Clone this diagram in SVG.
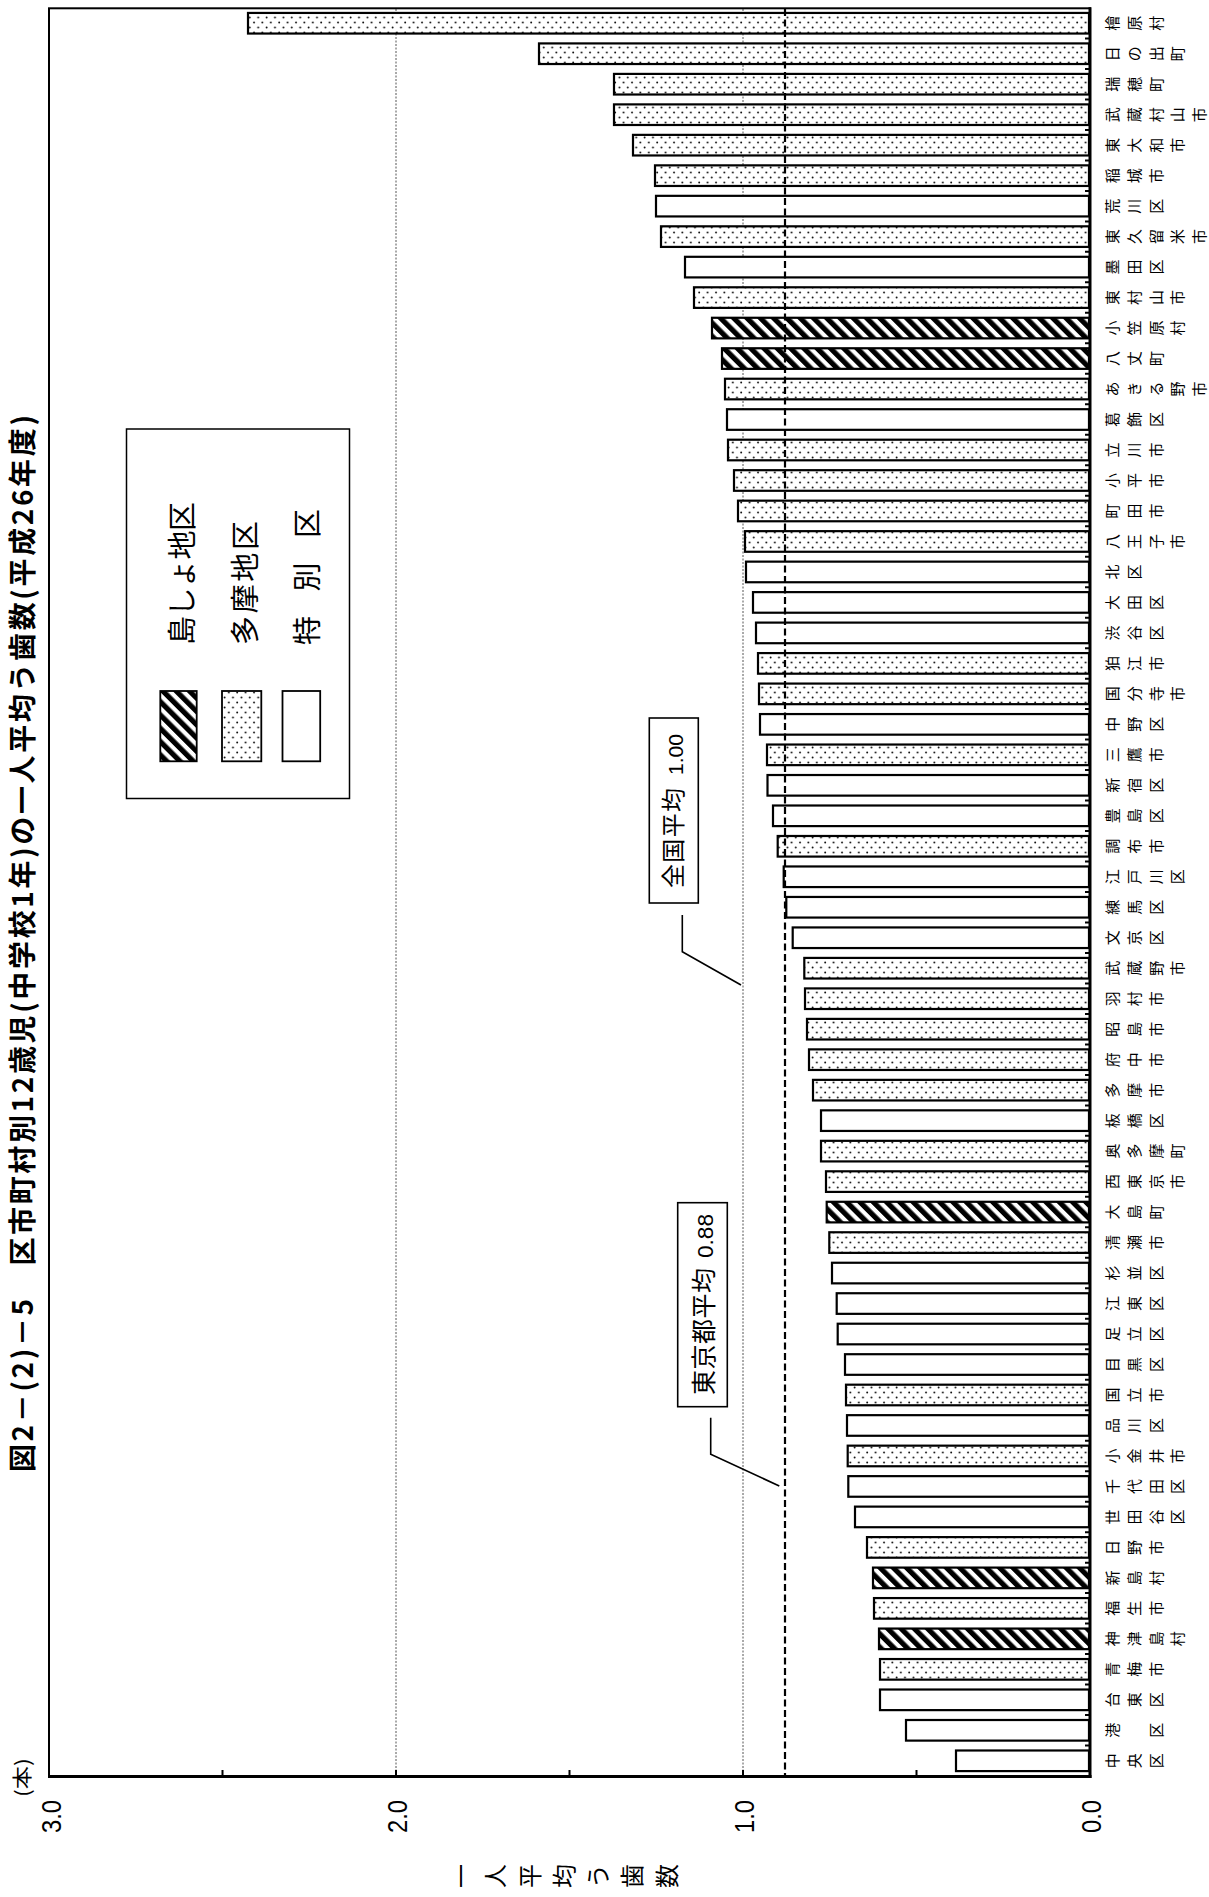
<svg xmlns="http://www.w3.org/2000/svg" width="1209" height="1897" viewBox="0 0 1209 1897">
<defs>
<pattern id="dots" patternUnits="userSpaceOnUse" width="8.4" height="10">
<rect width="8.4" height="10" fill="#fff"/>
<circle cx="2" cy="2.5" r="0.95" fill="#111"/>
<circle cx="6.2" cy="7.5" r="0.95" fill="#111"/>
</pattern>
<pattern id="hatch" patternUnits="userSpaceOnUse" width="9.4" height="9.4" patternTransform="rotate(-45)">
<rect width="9.4" height="9.4" fill="#fff"/>
<rect width="5.2" height="9.4" fill="#000"/>
</pattern>
<style>
.bar{stroke:#000;stroke-width:2.2}
.w{fill:#fff}
.d{fill:url(#dots)}
.h{fill:url(#hatch)}
.lbl{font-family:"Noto Sans CJK JP","Noto Sans CJK SC",sans-serif;font-size:15px;fill:#000}
.jp{font-family:"Noto Sans CJK JP","Noto Sans CJK SC",sans-serif;fill:#000}
.num{font-family:"Liberation Sans",Arial,sans-serif;fill:#000}
.grid{stroke:#555;stroke-width:1;stroke-dasharray:2 1.5;fill:none}
.box{fill:#fff;stroke:#000;stroke-width:1.6}
.lead{fill:none;stroke:#000;stroke-width:1.6}
</style>
</defs>
<rect width="1209" height="1897" fill="#fff"/>

<g id="title">
<text class="jp" x="32.5" y="1472" font-size="28" font-weight="700" transform="rotate(-90 32.5 1472)" textLength="1057" lengthAdjust="spacing">図2－(2)－5　区市町村別12歳児(中学校1年)の一人平均う歯数(平成26年度)</text>
</g>

<g id="gridlines">
<line class="grid" x1="396" y1="9" x2="396" y2="1775"/>
<line class="grid" x1="743" y1="9" x2="743" y2="1775"/>
</g>

<g id="bars">
<g id="bar-01"><rect class="bar d" x="248" y="12.94" width="841" height="20.6"/><text class="lbl" x="1118 1140 1162 1183 1205" y="30.74" rotate="-90">檜原村</text></g>
<g id="bar-02"><rect class="bar d" x="539" y="43.42" width="550" height="20.6"/><text class="lbl" x="1118 1140 1162 1183 1205" y="61.22" rotate="-90">日の出町</text></g>
<g id="bar-03"><rect class="bar d" x="614" y="73.91" width="475" height="20.6"/><text class="lbl" x="1118 1140 1162 1183 1205" y="91.71" rotate="-90">瑞穂町</text></g>
<g id="bar-04"><rect class="bar d" x="614" y="104.39" width="475" height="20.6"/><text class="lbl" x="1118 1140 1162 1183 1205" y="122.19" rotate="-90">武蔵村山市</text></g>
<g id="bar-05"><rect class="bar d" x="633" y="134.87" width="456" height="20.6"/><text class="lbl" x="1118 1140 1162 1183 1205" y="152.67" rotate="-90">東大和市</text></g>
<g id="bar-06"><rect class="bar d" x="655" y="165.36" width="434" height="20.6"/><text class="lbl" x="1118 1140 1162 1183 1205" y="183.16" rotate="-90">稲城市</text></g>
<g id="bar-07"><rect class="bar w" x="656" y="195.84" width="433" height="20.6"/><text class="lbl" x="1118 1140 1162 1183 1205" y="213.64" rotate="-90">荒川区</text></g>
<g id="bar-08"><rect class="bar d" x="661" y="226.32" width="428" height="20.6"/><text class="lbl" x="1118 1140 1162 1183 1205" y="244.12" rotate="-90">東久留米市</text></g>
<g id="bar-09"><rect class="bar w" x="685" y="256.81" width="404" height="20.6"/><text class="lbl" x="1118 1140 1162 1183 1205" y="274.61" rotate="-90">墨田区</text></g>
<g id="bar-10"><rect class="bar d" x="694" y="287.29" width="395" height="20.6"/><text class="lbl" x="1118 1140 1162 1183 1205" y="305.09" rotate="-90">東村山市</text></g>
<g id="bar-11"><rect class="bar h" x="712" y="317.77" width="377" height="20.6"/><text class="lbl" x="1118 1140 1162 1183 1205" y="335.57" rotate="-90">小笠原村</text></g>
<g id="bar-12"><rect class="bar h" x="722" y="348.26" width="367" height="20.6"/><text class="lbl" x="1118 1140 1162 1183 1205" y="366.06" rotate="-90">八丈町</text></g>
<g id="bar-13"><rect class="bar d" x="725" y="378.74" width="364" height="20.6"/><text class="lbl" x="1118 1140 1162 1183 1205" y="396.54" rotate="-90">あきる野市</text></g>
<g id="bar-14"><rect class="bar w" x="727" y="409.22" width="362" height="20.6"/><text class="lbl" x="1118 1140 1162 1183 1205" y="427.02" rotate="-90">葛飾区</text></g>
<g id="bar-15"><rect class="bar d" x="728" y="439.71" width="361" height="20.6"/><text class="lbl" x="1118 1140 1162 1183 1205" y="457.51" rotate="-90">立川市</text></g>
<g id="bar-16"><rect class="bar d" x="734" y="470.19" width="355" height="20.6"/><text class="lbl" x="1118 1140 1162 1183 1205" y="487.99" rotate="-90">小平市</text></g>
<g id="bar-17"><rect class="bar d" x="738" y="500.67" width="351" height="20.6"/><text class="lbl" x="1118 1140 1162 1183 1205" y="518.47" rotate="-90">町田市</text></g>
<g id="bar-18"><rect class="bar d" x="745" y="531.16" width="344" height="20.6"/><text class="lbl" x="1118 1140 1162 1183 1205" y="548.96" rotate="-90">八王子市</text></g>
<g id="bar-19"><rect class="bar w" x="746" y="561.64" width="343" height="20.6"/><text class="lbl" x="1118 1140 1162 1183 1205" y="579.44" rotate="-90">北区</text></g>
<g id="bar-20"><rect class="bar w" x="753" y="592.12" width="336" height="20.6"/><text class="lbl" x="1118 1140 1162 1183 1205" y="609.92" rotate="-90">大田区</text></g>
<g id="bar-21"><rect class="bar w" x="756" y="622.61" width="333" height="20.6"/><text class="lbl" x="1118 1140 1162 1183 1205" y="640.41" rotate="-90">渋谷区</text></g>
<g id="bar-22"><rect class="bar d" x="758" y="653.09" width="331" height="20.6"/><text class="lbl" x="1118 1140 1162 1183 1205" y="670.89" rotate="-90">狛江市</text></g>
<g id="bar-23"><rect class="bar d" x="759" y="683.57" width="330" height="20.6"/><text class="lbl" x="1118 1140 1162 1183 1205" y="701.37" rotate="-90">国分寺市</text></g>
<g id="bar-24"><rect class="bar w" x="760" y="714.06" width="329" height="20.6"/><text class="lbl" x="1118 1140 1162 1183 1205" y="731.86" rotate="-90">中野区</text></g>
<g id="bar-25"><rect class="bar d" x="767" y="744.54" width="322" height="20.6"/><text class="lbl" x="1118 1140 1162 1183 1205" y="762.34" rotate="-90">三鷹市</text></g>
<g id="bar-26"><rect class="bar w" x="767.5" y="775.02" width="321.5" height="20.6"/><text class="lbl" x="1118 1140 1162 1183 1205" y="792.82" rotate="-90">新宿区</text></g>
<g id="bar-27"><rect class="bar w" x="773" y="805.51" width="316" height="20.6"/><text class="lbl" x="1118 1140 1162 1183 1205" y="823.31" rotate="-90">豊島区</text></g>
<g id="bar-28"><rect class="bar d" x="777.7" y="835.99" width="311.3" height="20.6"/><text class="lbl" x="1118 1140 1162 1183 1205" y="853.79" rotate="-90">調布市</text></g>
<g id="bar-29"><rect class="bar w" x="783.7" y="866.47" width="305.3" height="20.6"/><text class="lbl" x="1118 1140 1162 1183 1205" y="884.27" rotate="-90">江戸川区</text></g>
<g id="bar-30"><rect class="bar w" x="786.3" y="896.96" width="302.7" height="20.6"/><text class="lbl" x="1118 1140 1162 1183 1205" y="914.76" rotate="-90">練馬区</text></g>
<g id="bar-31"><rect class="bar w" x="792.7" y="927.44" width="296.3" height="20.6"/><text class="lbl" x="1118 1140 1162 1183 1205" y="945.24" rotate="-90">文京区</text></g>
<g id="bar-32"><rect class="bar d" x="804.3" y="957.92" width="284.7" height="20.6"/><text class="lbl" x="1118 1140 1162 1183 1205" y="975.72" rotate="-90">武蔵野市</text></g>
<g id="bar-33"><rect class="bar d" x="805" y="988.41" width="284" height="20.6"/><text class="lbl" x="1118 1140 1162 1183 1205" y="1006.21" rotate="-90">羽村市</text></g>
<g id="bar-34"><rect class="bar d" x="807" y="1018.89" width="282" height="20.6"/><text class="lbl" x="1118 1140 1162 1183 1205" y="1036.69" rotate="-90">昭島市</text></g>
<g id="bar-35"><rect class="bar d" x="809" y="1049.37" width="280" height="20.6"/><text class="lbl" x="1118 1140 1162 1183 1205" y="1067.17" rotate="-90">府中市</text></g>
<g id="bar-36"><rect class="bar d" x="813" y="1079.86" width="276" height="20.6"/><text class="lbl" x="1118 1140 1162 1183 1205" y="1097.66" rotate="-90">多摩市</text></g>
<g id="bar-37"><rect class="bar w" x="821" y="1110.34" width="268" height="20.6"/><text class="lbl" x="1118 1140 1162 1183 1205" y="1128.14" rotate="-90">板橋区</text></g>
<g id="bar-38"><rect class="bar d" x="821" y="1140.82" width="268" height="20.6"/><text class="lbl" x="1118 1140 1162 1183 1205" y="1158.62" rotate="-90">奥多摩町</text></g>
<g id="bar-39"><rect class="bar d" x="826" y="1171.31" width="263" height="20.6"/><text class="lbl" x="1118 1140 1162 1183 1205" y="1189.11" rotate="-90">西東京市</text></g>
<g id="bar-40"><rect class="bar h" x="826.7" y="1201.79" width="262.3" height="20.6"/><text class="lbl" x="1118 1140 1162 1183 1205" y="1219.59" rotate="-90">大島町</text></g>
<g id="bar-41"><rect class="bar d" x="829.3" y="1232.27" width="259.7" height="20.6"/><text class="lbl" x="1118 1140 1162 1183 1205" y="1250.07" rotate="-90">清瀬市</text></g>
<g id="bar-42"><rect class="bar w" x="832" y="1262.76" width="257" height="20.6"/><text class="lbl" x="1118 1140 1162 1183 1205" y="1280.56" rotate="-90">杉並区</text></g>
<g id="bar-43"><rect class="bar w" x="836.7" y="1293.24" width="252.3" height="20.6"/><text class="lbl" x="1118 1140 1162 1183 1205" y="1311.04" rotate="-90">江東区</text></g>
<g id="bar-44"><rect class="bar w" x="837.7" y="1323.72" width="251.3" height="20.6"/><text class="lbl" x="1118 1140 1162 1183 1205" y="1341.52" rotate="-90">足立区</text></g>
<g id="bar-45"><rect class="bar w" x="845" y="1354.21" width="244" height="20.6"/><text class="lbl" x="1118 1140 1162 1183 1205" y="1372.01" rotate="-90">目黒区</text></g>
<g id="bar-46"><rect class="bar d" x="846" y="1384.69" width="243" height="20.6"/><text class="lbl" x="1118 1140 1162 1183 1205" y="1402.49" rotate="-90">国立市</text></g>
<g id="bar-47"><rect class="bar w" x="847" y="1415.17" width="242" height="20.6"/><text class="lbl" x="1118 1140 1162 1183 1205" y="1432.97" rotate="-90">品川区</text></g>
<g id="bar-48"><rect class="bar d" x="847.7" y="1445.66" width="241.3" height="20.6"/><text class="lbl" x="1118 1140 1162 1183 1205" y="1463.46" rotate="-90">小金井市</text></g>
<g id="bar-49"><rect class="bar w" x="848.3" y="1476.14" width="240.7" height="20.6"/><text class="lbl" x="1118 1140 1162 1183 1205" y="1493.94" rotate="-90">千代田区</text></g>
<g id="bar-50"><rect class="bar w" x="855" y="1506.62" width="234" height="20.6"/><text class="lbl" x="1118 1140 1162 1183 1205" y="1524.42" rotate="-90">世田谷区</text></g>
<g id="bar-51"><rect class="bar d" x="867" y="1537.11" width="222" height="20.6"/><text class="lbl" x="1118 1140 1162 1183 1205" y="1554.91" rotate="-90">日野市</text></g>
<g id="bar-52"><rect class="bar h" x="873" y="1567.59" width="216" height="20.6"/><text class="lbl" x="1118 1140 1162 1183 1205" y="1585.39" rotate="-90">新島村</text></g>
<g id="bar-53"><rect class="bar d" x="874" y="1598.07" width="215" height="20.6"/><text class="lbl" x="1118 1140 1162 1183 1205" y="1615.87" rotate="-90">福生市</text></g>
<g id="bar-54"><rect class="bar h" x="879" y="1628.56" width="210" height="20.6"/><text class="lbl" x="1118 1140 1162 1183 1205" y="1646.36" rotate="-90">神津島村</text></g>
<g id="bar-55"><rect class="bar d" x="880" y="1659.04" width="209" height="20.6"/><text class="lbl" x="1118 1140 1162 1183 1205" y="1676.84" rotate="-90">青梅市</text></g>
<g id="bar-56"><rect class="bar w" x="880" y="1689.52" width="209" height="20.6"/><text class="lbl" x="1118 1140 1162 1183 1205" y="1707.32" rotate="-90">台東区</text></g>
<g id="bar-57"><rect class="bar w" x="906" y="1720.01" width="183" height="20.6"/><text class="lbl" x="1118 1162" y="1737.81" rotate="-90">港区</text></g>
<g id="bar-58"><rect class="bar w" x="956" y="1750.49" width="133" height="20.6"/><text class="lbl" x="1118 1140 1162 1183 1205" y="1768.29" rotate="-90">中央区</text></g>
</g>

<g id="tokyo-average-line">
<line x1="785" y1="9" x2="785" y2="1775" stroke="#000" stroke-width="2.2" stroke-dasharray="7 3.5"/>
</g>

<g id="axes">
<rect x="49" y="8.3" width="1041" height="1768" fill="none" stroke="#000" stroke-width="2"/>
<line x1="1090" y1="7.3" x2="1090" y2="1778" stroke="#000" stroke-width="3"/>
<line x1="48" y1="1776.5" x2="1091.5" y2="1776.5" stroke="#000" stroke-width="3"/>
<path d="M916.5 1770V1776M743 1770V1776M569.5 1770V1776M396 1770V1776M222.5 1770V1776" stroke="#000" stroke-width="2" fill="none"/>
<path d="M1085 38.48h5M1085 68.97h5M1085 99.45h5M1085 129.93h5M1085 160.42h5M1085 190.9h5M1085 221.38h5M1085 251.86h5M1085 282.35h5M1085 312.83h5M1085 343.31h5M1085 373.8h5M1085 404.28h5M1085 434.76h5M1085 465.25h5M1085 495.73h5M1085 526.21h5M1085 556.69h5M1085 587.18h5M1085 617.66h5M1085 648.14h5M1085 678.63h5M1085 709.11h5M1085 739.59h5M1085 770.08h5M1085 800.56h5M1085 831.04h5M1085 861.52h5M1085 892.01h5M1085 922.49h5M1085 952.97h5M1085 983.46h5M1085 1013.94h5M1085 1044.42h5M1085 1074.91h5M1085 1105.39h5M1085 1135.87h5M1085 1166.35h5M1085 1196.84h5M1085 1227.32h5M1085 1257.8h5M1085 1288.29h5M1085 1318.77h5M1085 1349.25h5M1085 1379.74h5M1085 1410.22h5M1085 1440.7h5M1085 1471.18h5M1085 1501.67h5M1085 1532.15h5M1085 1562.63h5M1085 1593.12h5M1085 1623.6h5M1085 1654.08h5M1085 1684.57h5M1085 1715.05h5M1085 1745.53h5" stroke="#000" stroke-width="2" fill="none"/>
<text class="num" x="1101" y="1800" font-size="28" text-anchor="end" textLength="33" lengthAdjust="spacingAndGlyphs" transform="rotate(-90 1101 1800)">0.0</text>
<text class="num" x="754" y="1800" font-size="28" text-anchor="end" textLength="33" lengthAdjust="spacingAndGlyphs" transform="rotate(-90 754 1800)">1.0</text>
<text class="num" x="407" y="1800" font-size="28" text-anchor="end" textLength="33" lengthAdjust="spacingAndGlyphs" transform="rotate(-90 407 1800)">2.0</text>
<text class="num" x="61" y="1800" font-size="28" text-anchor="end" textLength="33" lengthAdjust="spacingAndGlyphs" transform="rotate(-90 61 1800)">3.0</text>
<text class="jp" x="30" y="1797" font-size="20" textLength="39" lengthAdjust="spacingAndGlyphs" transform="rotate(-90 30 1797)">(本)</text>
<text class="jp" x="470 504 539 573 607 641 676" y="1888" font-size="24" rotate="-90">一人平均う歯数</text>
</g>

<g id="legend">
<rect x="126.5" y="429" width="223" height="369.5" fill="#fff" stroke="#000" stroke-width="1.5"/>
<rect x="160.3" y="691" width="36.4" height="70.3" fill="url(#hatch)" stroke="#000" stroke-width="1.8"/>
<rect x="222" y="691" width="39.3" height="70.3" fill="url(#dots)" stroke="#000" stroke-width="1.8"/>
<rect x="282.5" y="691" width="37.7" height="70.3" fill="#fff" stroke="#000" stroke-width="1.8"/>
<text class="jp" x="193" y="645" font-size="29" textLength="143" lengthAdjust="spacing" transform="rotate(-90 193 645)">島しょ地区</text>
<text class="jp" x="256" y="645" font-size="29" textLength="124" lengthAdjust="spacing" transform="rotate(-90 256 645)">多摩地区</text>
<text class="jp" x="318" y="645" font-size="29" textLength="136" lengthAdjust="spacing" transform="rotate(-90 318 645)">特　別　区</text>
</g>

<g id="callout-national">
<rect class="box" x="649.3" y="718" width="49" height="185"/>
<text class="jp" x="682" y="888" font-size="24" textLength="100" lengthAdjust="spacing" transform="rotate(-90 682 888)">全国平均</text>
<text class="num" x="683" y="775" font-size="21" textLength="41" lengthAdjust="spacingAndGlyphs" transform="rotate(-90 683 775)">1.00</text>
</g>

<g id="callout-tokyo">
<rect class="box" x="677.7" y="1202.7" width="49.6" height="204"/>
<text class="jp" x="713" y="1395" font-size="25" textLength="127" lengthAdjust="spacing" transform="rotate(-90 713 1395)">東京都平均</text>
<text class="num" x="713" y="1258" font-size="22" textLength="44" lengthAdjust="spacingAndGlyphs" transform="rotate(-90 713 1258)">0.88</text>
</g>

<g id="connectors">
<path class="lead" d="M682.3 915V951.7L741 985"/>
<path class="lead" d="M710.7 1417.7V1454.3L779.3 1486"/>
</g>
</svg>
